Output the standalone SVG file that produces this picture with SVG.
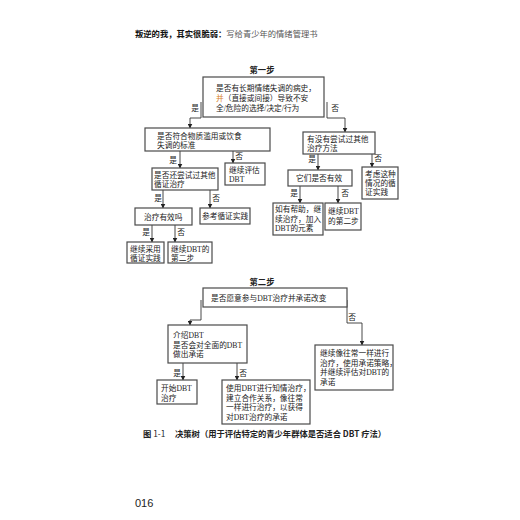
<svg xmlns="http://www.w3.org/2000/svg" width="520" height="520" viewBox="0 0 520 520">
<defs>
<marker id="ah" markerWidth="5" markerHeight="5" refX="4.5" refY="2.5" orient="auto" markerUnits="userSpaceOnUse">
<path d="M0,0 L5,2.5 L0,5 z" fill="#222"/>
</marker>
</defs>
<style>
.bx{fill:#fff;stroke:#4a4a4a;stroke-width:1.2}
.t{font-family:"Liberation Serif","Noto Sans CJK SC",serif;font-size:7.7px;fill:#222}
.lb{font-family:"Liberation Serif","Noto Sans CJK SC",serif;font-size:7.7px;fill:#222;text-anchor:middle}
.h{font-family:"Noto Sans CJK SC",sans-serif;font-size:8.3px;font-weight:bold;fill:#222;text-anchor:middle}
.c path{fill:none;stroke:#333;stroke-width:0.9;marker-end:url(#ah)}
</style>
<rect width="520" height="520" fill="#fff"/>
<text x="135" y="37" style="font-family:'Noto Sans CJK SC',sans-serif;font-size:8.3px"><tspan font-weight="bold" fill="#111">叛逆的我，其实很脆弱：</tspan><tspan fill="#555">写给青少年的情绪管理书</tspan></text>
<text class="h" x="262" y="73">第一步</text>
<g id="connectors" class="c">
<path d="M201,102 V118 H190 V128"/>
<path d="M327,102 V118 H345 V132"/>
<path d="M180,151 V168"/>
<path d="M233,151 V163"/>
<path d="M163,190 V208"/>
<path d="M210,190 V208"/>
<path d="M152,225 V242"/>
<path d="M175,225 V242"/>
<path d="M318,154 V170"/>
<path d="M372,154 V167"/>
<path d="M300,186 V203"/>
<path d="M338,186 V203"/>
<path d="M201,300 V320 H190 V325"/>
<path d="M347,300 V323 H362 V345"/>
<path d="M183,363 V380"/>
<path d="M237,363 V380"/>
</g>
<g id="labels">
<text class="lb" x="195" y="111">是</text>
<text class="lb" x="335" y="111">否</text>
<text class="lb" x="173" y="163">是</text>
<text class="lb" x="239" y="159">否</text>
<text class="lb" x="158" y="201">是</text>
<text class="lb" x="216" y="201">否</text>
<text class="lb" x="146" y="235">是</text>
<text class="lb" x="181" y="235">否</text>
<text class="lb" x="312" y="162">是</text>
<text class="lb" x="378" y="161">否</text>
<text class="lb" x="294" y="196">是</text>
<text class="lb" x="345" y="196">否</text>
<text class="lb" x="352" y="320">否</text>
<text class="lb" x="177" y="376">是</text>
<text class="lb" x="243" y="376">否</text>
</g>
<g id="nA"><rect class="bx" x="203" y="77" width="121" height="40"/>
<text class="t" x="216" y="91">是否有长期情绪失调的病史，</text>
<text class="t" x="216" y="101"><tspan fill="#d9822b">并</tspan>（直接或间接）导致不安</text>
<text class="t" x="216" y="111">全/危险的选择/决定/行为</text></g>
<g id="nB"><rect class="bx" x="145" y="128" width="125" height="23"/>
<text class="t" x="157" y="139">是否符合物质滥用或饮食</text>
<text class="t" x="157" y="148">失调的标准</text></g>
<g id="nB2"><rect class="bx" x="225" y="163" width="40" height="22"/>
<text class="t" x="229" y="173">继续评估</text>
<text class="t" x="229" y="182">DBT</text></g>
<g id="nC"><rect class="bx" x="152" y="168" width="66" height="22"/>
<text class="t" x="154" y="178">是否还尝试过其他</text>
<text class="t" x="154" y="187">循证治疗</text></g>
<g id="nD"><rect class="bx" x="135" y="208" width="57" height="17"/>
<text class="t" x="144" y="219.5">治疗有效吗</text></g>
<g id="nE"><rect class="bx" x="200" y="208" width="50" height="16"/>
<text class="t" x="202" y="219">参考循证实践</text></g>
<g id="nF"><rect class="bx" x="127" y="242" width="37" height="21"/>
<text class="t" x="130" y="251.5">继续采用</text>
<text class="t" x="130" y="260.5">循证实践</text></g>
<g id="nG"><rect class="bx" x="168" y="242" width="44" height="21"/>
<text class="t" x="171" y="251.5">继续DBT的</text>
<text class="t" x="171" y="260.5">第二步</text></g>
<g id="nH"><rect class="bx" x="303" y="132" width="72" height="22"/>
<text class="t" x="307" y="142">有没有尝试过其他</text>
<text class="t" x="307" y="151">治疗方法</text></g>
<g id="nI"><rect class="bx" x="288" y="170" width="64" height="16"/>
<text class="t" x="296" y="181">它们是否有效</text></g>
<g id="nJ"><rect class="bx" x="273" y="203" width="50" height="32"/>
<text class="t" x="275" y="212">如有帮助，继</text>
<text class="t" x="275" y="221.5">续治疗，加入</text>
<text class="t" x="275" y="231">DBT的元素</text></g>
<g id="nK"><rect class="bx" x="325" y="203" width="36" height="27"/>
<text class="t" x="328" y="214">继续DBT</text>
<text class="t" x="328" y="224">的第二步</text></g>
<g id="nL"><rect class="bx" x="362" y="167" width="36" height="32"/>
<text class="t" x="365" y="177">考虑这种</text>
<text class="t" x="365" y="186">情况的循</text>
<text class="t" x="365" y="195">证实践</text></g>
<text class="h" x="262" y="285">第二步</text>
<g id="nM"><rect class="bx" x="203" y="288" width="144" height="19"/>
<text class="t" x="211" y="300.5">是否愿意参与DBT治疗并承诺改变</text></g>
<g id="nO"><rect class="bx" x="168" y="325" width="79" height="38"/>
<text class="t" x="173" y="338">介绍DBT</text>
<text class="t" x="173" y="347.5">是否会对全面的DBT</text>
<text class="t" x="173" y="357">做出承诺</text></g>
<g id="nN"><rect class="bx" x="315" y="345" width="78" height="45"/>
<text class="t" x="320" y="356">继续像往常一样进行</text>
<text class="t" x="320" y="365.5">治疗，使用承诺策略，</text>
<text class="t" x="320" y="375">并继续评估对DBT的</text>
<text class="t" x="320" y="384.5">承诺</text></g>
<g id="nP"><rect class="bx" x="157" y="380" width="40" height="24"/>
<text class="t" x="161" y="391">开始DBT</text>
<text class="t" x="161" y="400.5">治疗</text></g>
<g id="nQ"><rect class="bx" x="222" y="380" width="88" height="44"/>
<text class="t" x="226" y="391">使用DBT进行知情治疗，</text>
<text class="t" x="226" y="400.5">建立合作关系，像往常</text>
<text class="t" x="226" y="410">一样进行治疗，以获得</text>
<text class="t" x="226" y="419.5">对DBT治疗的承诺</text></g>
<text x="143" y="437" style="font-family:'Noto Sans CJK SC',sans-serif;font-size:8.3px;font-weight:bold;fill:#222">图 <tspan font-weight="normal">1-1</tspan><tspan x="175">决策树（用于评估特定的青少年群体是否适合 DBT 疗法）</tspan></text>
<text x="135" y="507" style="font-family:'Liberation Sans',sans-serif;font-size:11px;fill:#222">016</text>
</svg>
